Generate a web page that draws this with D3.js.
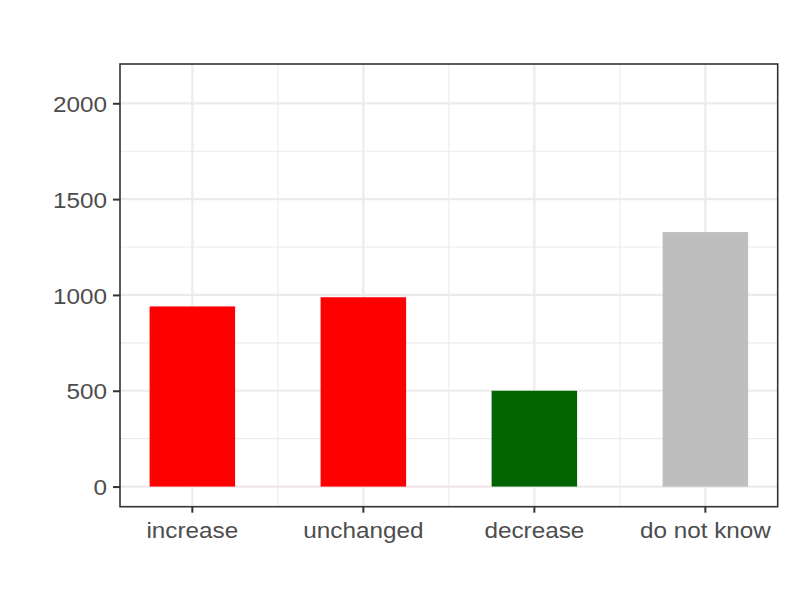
<!DOCTYPE html>
<html>
<head>
<meta charset="utf-8">
<script src="https://cdn.jsdelivr.net/npm/d3@7"></script>
<style>
  html, body { margin: 0; padding: 0; background: #fff; }
  svg { display: block; }
  text { font-family: "Liberation Sans", Arial, Helvetica, sans-serif; }
</style>
</head>
<body>
<svg id="chart" width="793" height="595"></svg>
<script>
const categories = ["increase", "unchanged", "decrease", "do not know"];
const counts = [940, 988, 500, 1328];
const barColors = ["#FF0000", "#FF0000", "#006400", "#BEBEBE"];
const yTicks = [0, 500, 1000, 1500, 2000];
const yMinorTicks = [250, 750, 1250, 1750];

const W = 793, H = 595;
const panel = { left: 120, top: 64, right: 777.7, bottom: 506.7 };
const FS = 22.5, SX = 1.08;

const svg = d3.select("#chart");
svg.append("rect").attr("width", W).attr("height", H).attr("fill", "#fff");

const x = d3.scaleBand()
  .domain(categories)
  .range([panel.left, panel.right])
  .paddingInner(0.5)
  .paddingOuter(0.173);

const y = d3.scaleLinear()
  .domain([-105, 2205])
  .range([panel.bottom, panel.top]);

const grid = svg.append("g");
grid.selectAll("line.hmin").data(yMinorTicks).join("line")
  .attr("x1", panel.left).attr("x2", panel.right)
  .attr("y1", d => y(d)).attr("y2", d => y(d))
  .attr("stroke", "#EBEBEB").attr("stroke-width", 1.1);
const mids = categories.slice(1).map((c, i) => (x(categories[i]) + x.bandwidth() / 2 + x(c) + x.bandwidth() / 2) / 2);
grid.selectAll("line.vmin").data(mids).join("line")
  .attr("y1", panel.top).attr("y2", panel.bottom)
  .attr("x1", d => d).attr("x2", d => d)
  .attr("stroke", "#EBEBEB").attr("stroke-width", 1.1);
grid.selectAll("line.hmaj").data(yTicks).join("line")
  .attr("x1", panel.left).attr("x2", panel.right)
  .attr("y1", d => y(d)).attr("y2", d => y(d))
  .attr("stroke", "#EBEBEB").attr("stroke-width", 2.2);
grid.selectAll("line.vmaj").data(categories).join("line")
  .attr("y1", panel.top).attr("y2", panel.bottom)
  .attr("x1", d => x(d) + x.bandwidth() / 2).attr("x2", d => x(d) + x.bandwidth() / 2)
  .attr("stroke", "#EBEBEB").attr("stroke-width", 2.2);

// faint red tint on the baseline between the red bars region
svg.append("line")
  .attr("x1", x("increase") + x.bandwidth()).attr("x2", x("decrease"))
  .attr("y1", y(0)).attr("y2", y(0))
  .attr("stroke", "#F8E0E0").attr("stroke-width", 1.4);

svg.append("g").selectAll("rect").data(categories).join("rect")
  .attr("x", d => x(d))
  .attr("width", x.bandwidth())
  .attr("y", (d, i) => y(counts[i]))
  .attr("height", (d, i) => y(0) - y(counts[i]))
  .attr("fill", (d, i) => barColors[i]);

svg.append("rect")
  .attr("x", panel.left).attr("y", panel.top)
  .attr("width", panel.right - panel.left).attr("height", panel.bottom - panel.top)
  .attr("fill", "none").attr("stroke", "#333333").attr("stroke-width", 1.6);

const yAxis = d3.axisLeft(y).tickValues(yTicks).tickSize(7).tickPadding(6).tickFormat(d3.format("d"));
const gy = svg.append("g").attr("transform", `translate(${panel.left},0)`).call(yAxis);
gy.select(".domain").remove();
gy.selectAll(".tick line").attr("stroke", "#333333").attr("stroke-width", 2);
gy.selectAll(".tick text")
  .attr("fill", "#4D4D4D").attr("font-size", FS)
  .attr("dy", "0.36em")
  .attr("transform", function() {
    const xx = +d3.select(this).attr("x");
    d3.select(this).attr("x", 0);
    return `translate(${xx},0) scale(${SX},1)`;
  });

const xAxis = d3.axisBottom(x).tickSize(6).tickPadding(9);
const gx = svg.append("g").attr("transform", `translate(0,${panel.bottom})`).call(xAxis);
gx.select(".domain").remove();
gx.selectAll(".tick line").attr("stroke", "#333333").attr("stroke-width", 2);
gx.selectAll(".tick text")
  .attr("fill", "#4D4D4D").attr("font-size", FS)
  .attr("dy", "0.71em")
  .attr("transform", function() {
    const yy = +d3.select(this).attr("y");
    d3.select(this).attr("y", 0);
    return `translate(0,${yy}) scale(${SX},1)`;
  });
</script>
</body>
</html>
